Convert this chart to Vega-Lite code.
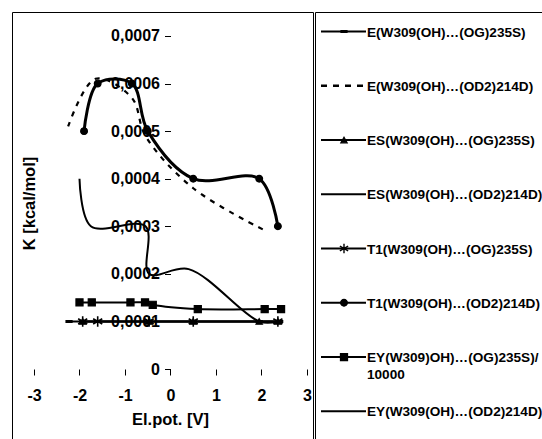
{
  "$schema": "https://vega.github.io/schema/vega-lite/v6.json",
  "padding": {"left": 11, "top": 11, "right": 0, "bottom": 0},
  "spacing": 0,
  "background": "#ffffff",
  "config": {
    "view": {"stroke": "#000000", "strokeWidth": 1},
    "font": "Liberation Sans"
  },
  "datasets": {
    "pts": [
      {"s": "EOG", "x": -2.23, "y": 0.0001},
      {"s": "EOG", "x": -1.93, "y": 0.0001},
      {"s": "EOG", "x": -1.6, "y": 0.0001},
      {"s": "EOG", "x": -0.47, "y": 0.0001},
      {"s": "EOG", "x": 0.5, "y": 0.0001},
      {"s": "EOG", "x": 1.95, "y": 0.0001},
      {"s": "EOG", "x": 2.4, "y": 0.0001},
      {"s": "EOD", "x": -2.25, "y": 0.00051},
      {"s": "EOD", "x": -1.65, "y": 0.00061},
      {"s": "EOD", "x": -0.85, "y": 0.00057},
      {"s": "EOD", "x": -0.55, "y": 0.00049},
      {"s": "EOD", "x": 0.5, "y": 0.00038},
      {"s": "EOD", "x": 2.1, "y": 0.00029},
      {"s": "ESOG", "x": -1.93, "y": 0.0001},
      {"s": "ESOG", "x": -0.47, "y": 0.0001},
      {"s": "ESOG", "x": 0.5, "y": 0.0001},
      {"s": "ESOG", "x": 1.95, "y": 0.0001},
      {"s": "ESOG", "x": 2.36, "y": 0.0001},
      {"s": "ESOD", "x": -2.0, "y": 0.0004},
      {"s": "ESOD", "x": -1.75, "y": 0.0003},
      {"s": "ESOD", "x": -0.55, "y": 0.0003},
      {"s": "ESOD", "x": -0.47, "y": 0.0002},
      {"s": "ESOD", "x": 0.4, "y": 0.00021},
      {"s": "ESOD", "x": 1.95, "y": 0.0001},
      {"s": "ESOD", "x": 2.36, "y": 0.0001},
      {"s": "T1OG", "x": -1.93, "y": 0.0001},
      {"s": "T1OG", "x": -1.6, "y": 0.0001},
      {"s": "T1OG", "x": -0.47, "y": 0.0001},
      {"s": "T1OG", "x": 0.5, "y": 0.0001},
      {"s": "T1OG", "x": 2.36, "y": 0.0001},
      {"s": "T1OD", "x": -1.9, "y": 0.0005},
      {"s": "T1OD", "x": -1.6, "y": 0.0006},
      {"s": "T1OD", "x": -0.85, "y": 0.0006},
      {"s": "T1OD", "x": -0.5, "y": 0.0005},
      {"s": "T1OD", "x": 0.5, "y": 0.0004},
      {"s": "T1OD", "x": 1.95, "y": 0.0004},
      {"s": "T1OD", "x": 2.36, "y": 0.0003},
      {"s": "EYOG", "x": -2.0, "y": 0.00014},
      {"s": "EYOG", "x": -1.73, "y": 0.00014},
      {"s": "EYOG", "x": -0.88, "y": 0.00014},
      {"s": "EYOG", "x": -0.56, "y": 0.00014},
      {"s": "EYOG", "x": -0.39, "y": 0.000135},
      {"s": "EYOG", "x": 0.6, "y": 0.000126},
      {"s": "EYOG", "x": 2.07, "y": 0.000126},
      {"s": "EYOG", "x": 2.43, "y": 0.000126}
    ],
    "leg": [
      {"s": "EOG", "label": "E(W309(OH)…(OG)235S)"},
      {"s": "EOD", "label": "E(W309(OH)…(OD2)214D)"},
      {"s": "ESOG", "label": "ES(W309(OH)…(OG)235S)"},
      {"s": "ESOD", "label": "ES(W309(OH)…(OD2)214D)"},
      {"s": "T1OG", "label": "T1(W309(OH)…(OG)235S)"},
      {"s": "T1OD", "label": "T1(W309(OH)…(OD2)214D)"},
      {"s": "EYOG", "label": "EY(W309)OH)…(OG)235S)/\n10000"},
      {"s": "EYOD", "label": "EY(W309(OH)…(OD2)214D)"}
    ]
  },
  "hconcat": [
    {
      "width": 301,
      "height": 434,
      "data": {"name": "pts"},
      "encoding": {
        "x": {
          "field": "x", "type": "quantitative", "title": "El.pot. [V]",
          "scale": {"domain": [-3.4835, 3.1319], "nice": false, "zero": false},
          "axis": {
            "values": [-3, -2, -1, 0, 1, 2, 3], "domain": false, "grid": false,
            "offset": -77, "tickSize": 6, "tickColor": "#000000", "tickWidth": 1,
            "labelExpr": "'' + datum.value", "labelFont": "Liberation Sans",
            "labelFontWeight": "bold", "labelFontSize": 16, "labelColor": "#000000",
            "labelPadding": 12, "labelFlush": false, "labelOverlap": false, "labelBound": false,
            "titleX": 158, "titleY": 50, "titleBaseline": "middle", "titleAlign": "center",
            "titleFont": "Liberation Sans", "titleFontSize": 16.5, "titleFontWeight": "bold", "titleColor": "#000000"
          }
        },
        "y": {
          "field": "y", "type": "quantitative", "title": "K [kcal/mol]",
          "scale": {"domain": [-0.00016186, 0.00075045], "nice": false, "zero": false},
          "axis": {
            "values": [0, 0.0001, 0.0002, 0.0003, 0.0004, 0.0005, 0.0006, 0.0007],
            "domain": false, "grid": false,
            "offset": -158.5, "tickSize": 6, "tickColor": "#000000", "tickWidth": 1,
            "labelExpr": "datum.value == 0 ? '0' : replace(format(datum.value, '.4f'), '.', ',')",
            "labelFont": "Liberation Sans", "labelFontWeight": "bold", "labelFontSize": 16,
            "labelColor": "#000000", "labelPadding": 5, "labelFlush": false, "labelOverlap": false, "labelBound": false,
            "titleX": -141, "titleY": 191, "titleAngle": 270, "titleBaseline": "middle", "titleAlign": "center",
            "titleFont": "Liberation Sans", "titleFontSize": 16.5, "titleFontWeight": "bold", "titleColor": "#000000"
          }
        }
      },
      "layer": [
        {
          "data": {"values": [{}]},
          "mark": {"type": "rule", "color": "#000000", "strokeWidth": 1},
          "encoding": {
            "x": {"datum": -3, "type": "quantitative", "title": "El.pot. [V]"},
            "x2": {"datum": 3},
            "y": {"datum": 0, "type": "quantitative", "title": "K [kcal/mol]"}
          }
        },
        {
          "data": {"values": [{}]},
          "mark": {"type": "rule", "color": "#000000", "strokeWidth": 1},
          "encoding": {
            "x": {"datum": 0, "type": "quantitative", "title": "El.pot. [V]"},
            "y": {"datum": 0, "type": "quantitative", "title": "K [kcal/mol]"},
            "y2": {"datum": 0.0007}
          }
        },
        {
          "transform": [{"filter": "indexof(['EOG','ESOG','T1OG','ESOD','EYOG'], datum.s) >= 0"}],
          "mark": {"type": "line", "interpolate": "catmull-rom", "color": "#000000", "strokeWidth": 2},
          "encoding": {"detail": {"field": "s"}}
        },
        {
          "transform": [{"filter": "datum.s == 'EOD'"}],
          "mark": {"type": "line", "interpolate": "catmull-rom", "color": "#000000", "strokeWidth": 2.2, "strokeDash": [5, 6]},
          "encoding": {}
        },
        {
          "transform": [{"filter": "datum.s == 'T1OD'"}],
          "mark": {"type": "line", "interpolate": "catmull-rom", "color": "#000000", "strokeWidth": 3},
          "encoding": {}
        },
        {
          "transform": [{"filter": "indexof(['EOG','ESOG','T1OD','EYOG'], datum.s) >= 0"}],
          "mark": {"type": "point", "filled": true, "color": "#000000", "stroke": "#000000", "strokeWidth": 1.2, "opacity": 1},
          "encoding": {
            "shape": {
              "field": "s", "type": "nominal", "legend": null,
              "scale": {
                "domain": ["EOG", "ESOG", "T1OD", "EYOG"],
                "range": ["M-1,-0.3H1V0.3H-1Z", "triangle-up", "circle", "square"]
              }
            },
            "size": {
              "field": "s", "type": "nominal", "legend": null,
              "scale": {"domain": ["EOG", "ESOG", "T1OD", "EYOG"], "range": [36, 50, 35, 40]}
            }
          }
        },
        {
          "transform": [{"filter": "datum.s == 'T1OG'"}],
          "mark": {"type": "point", "filled": false, "shape": "M0,-1L0,1M-0.87,-0.5L0.87,0.5M-0.87,0.5L0.87,-0.5", "size": 110, "color": "#000000", "strokeWidth": 1.6, "opacity": 1},
          "encoding": {}
        }
      ]
    },
    {
      "width": 230,
      "height": 434,
      "data": {"name": "leg"},
      "encoding": {
        "y": {
          "field": "label", "type": "nominal", "axis": null,
          "scale": {
            "type": "point",
            "domain": ["E(W309(OH)…(OG)235S)", "E(W309(OH)…(OD2)214D)", "ES(W309(OH)…(OG)235S)", "ES(W309(OH)…(OD2)214D)", "T1(W309(OH)…(OG)235S)", "T1(W309(OH)…(OD2)214D)", "EY(W309)OH)…(OG)235S)/\n10000", "EY(W309(OH)…(OD2)214D)"],
            "paddingOuter": 0.5185, "align": 0.36
          }
        }
      },
      "layer": [
        {
          "transform": [{"filter": "datum.s != 'EOD'"}],
          "mark": {"type": "rule", "color": "#000000", "strokeWidth": 2},
          "encoding": {
            "x": {"datum": 6, "type": "quantitative", "axis": null, "scale": {"domain": [0, 230], "nice": false, "zero": false}},
            "x2": {"datum": 51}
          }
        },
        {
          "transform": [{"filter": "datum.s == 'EOD'"}],
          "mark": {"type": "rule", "color": "#000000", "strokeWidth": 2.5, "strokeDash": [6, 6]},
          "encoding": {
            "x": {"datum": 6, "type": "quantitative", "axis": null},
            "x2": {"datum": 51}
          }
        },
        {
          "transform": [{"filter": "indexof(['EOG','ESOG','T1OD','EYOG'], datum.s) >= 0"}],
          "mark": {"type": "point", "filled": true, "color": "#000000", "stroke": "#000000", "strokeWidth": 1.2, "opacity": 1},
          "encoding": {
            "x": {"datum": 29, "type": "quantitative", "axis": null},
            "shape": {
              "field": "s", "type": "nominal", "legend": null,
              "scale": {
                "domain": ["EOG", "ESOG", "T1OD", "EYOG"],
                "range": ["M-1,-0.3H1V0.3H-1Z", "triangle-up", "circle", "square"]
              }
            },
            "size": {
              "field": "s", "type": "nominal", "legend": null,
              "scale": {"domain": ["EOG", "ESOG", "T1OD", "EYOG"], "range": [30, 45, 30, 35]}
            }
          }
        },
        {
          "transform": [{"filter": "datum.s == 'T1OG'"}],
          "mark": {"type": "point", "filled": false, "shape": "M0,-1L0,1M-0.87,-0.5L0.87,0.5M-0.87,0.5L0.87,-0.5", "size": 90, "color": "#000000", "strokeWidth": 1.4, "opacity": 1},
          "encoding": {
            "x": {"datum": 29, "type": "quantitative", "axis": null}
          }
        },
        {
          "mark": {"type": "text", "align": "left", "baseline": "alphabetic", "dy": 5, "lineBreak": "\n", "lineHeight": 17, "font": "Liberation Sans", "fontWeight": "bold", "fontSize": 13.6, "color": "#000000"},
          "encoding": {
            "x": {"datum": 52, "type": "quantitative", "axis": null},
            "text": {"field": "label"}
          }
        }
      ]
    }
  ]
}
